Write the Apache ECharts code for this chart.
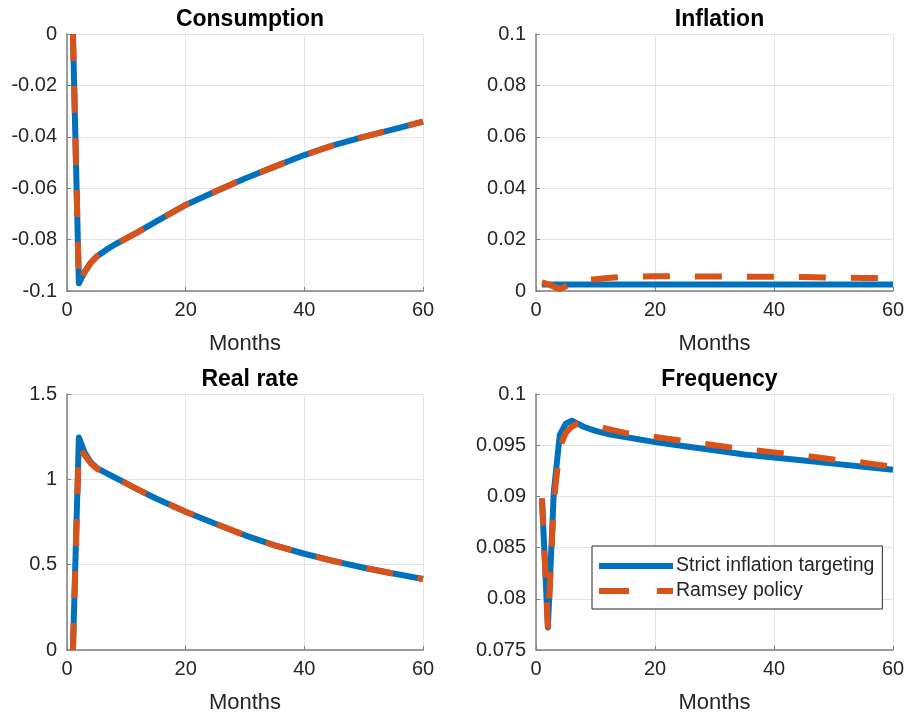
<!DOCTYPE html>
<html><head><meta charset="utf-8">
<script src="https://cdn.jsdelivr.net/npm/echarts@6/dist/echarts.min.js"></script>
<style>html,body{margin:0;padding:0;background:#fff}#c{width:908px;height:715px}</style>
</head><body><div id="c"></div>
<script>
const months = [1,2,3,4,5,6,7,8,10,12,15,20,25,30,35,40,45,50,55,60];
const panelTitles = ['Consumption','Inflation','Real rate','Frequency'];
const seriesNames = ['Strict inflation targeting','Ramsey policy'];
const xTicks = [0,20,40,60];

const consSIT = [0,-0.097,-0.0925,-0.089,-0.0866,-0.085,-0.0834,-0.082,-0.0795,-0.077,-0.073,-0.0665,-0.0613,-0.0562,-0.0516,-0.0471,-0.0432,-0.040,-0.0371,-0.0341];
const consRam = [0,-0.0975,-0.0925,-0.089,-0.0866,-0.085,-0.0834,-0.082,-0.0795,-0.077,-0.073,-0.0665,-0.0613,-0.0562,-0.0516,-0.0471,-0.0432,-0.040,-0.0371,-0.0341];
const inflSIT = [0.0025,0.0025,0.0025,0.0025,0.0025,0.0025,0.0025,0.0025,0.0025,0.0025,0.0025,0.0025,0.0025,0.0025,0.0025,0.0025,0.0025,0.0025,0.0025,0.0025];
const inflRam = [0.0033,0.0027,0.0017,0.0008,0.0018,0.0031,0.0038,0.0042,0.0046,0.0051,0.0056,0.0057,0.0057,0.0056,0.0056,0.0055,0.0054,0.0052,0.0051,0.005];
const rateSIT = [0,1.245,1.155,1.1,1.068,1.048,1.03,1.012,0.976,0.94,0.888,0.81,0.74,0.672,0.613,0.564,0.521,0.482,0.448,0.416];
const rateRam = [0,1.19,1.14,1.094,1.063,1.045,1.028,1.01,0.976,0.94,0.888,0.81,0.74,0.672,0.613,0.564,0.521,0.482,0.448,0.416];
const freqSIT = [0.0898,0.0772,0.0905,0.0960,0.0971,0.0974,0.0971,0.0968,0.0964,0.0961,0.0958,0.0953,0.0949,0.0945,0.0941,0.0938,0.0935,0.0932,0.0929,0.0926];
const freqRam = [0.0898,0.0773,0.0895,0.0948,0.0962,0.0968,0.0971,0.0971,0.0969,0.0966,0.0962,0.0958,0.0954,0.0950,0.0946,0.0943,0.0940,0.0936,0.0933,0.0929];

const yRanges = [
  {min:-0.1, max:0, interval:0.02},
  {min:0, max:0.1, interval:0.02},
  {min:0, max:1.5, interval:0.5},
  {min:0.075, max:0.1, interval:0.005}
];
const panelData = [[consSIT,consRam],[inflSIT,inflRam],[rateSIT,rateRam],[freqSIT,freqRam]];

const FONT = 'Liberation Sans, Arial, Helvetica, sans-serif';
const grids = [
  {left:67, top:34, width:356, height:257},
  {left:536, top:34, width:357, height:257},
  {left:67, top:394, width:356, height:256},
  {left:536, top:394, width:357, height:256}
];
const BLUE = '#0072BD', ORANGE = '#D95319';
const DASH = [27,25];

const pair = (ys) => months.map((m,i)=>[m, ys[i]]);

const option = {
  animation:false,
  textStyle:{fontFamily:FONT},
  title: panelTitles.map((t,i)=>({
    text:t, left: grids[i].left + grids[i].width/2, top: grids[i].top - 31,
    textAlign:'center',
    textStyle:{fontFamily:FONT, fontWeight:'bold', fontSize:23, color:'#000'}
  })),
  grid: grids,
  legend:{
    orient:'vertical', left:592, top:546,
    data: [
      {name:seriesNames[0], itemStyle:{opacity:0}, lineStyle:{color:BLUE, width:6, type:'solid'}},
      {name:seriesNames[1], itemStyle:{opacity:0}, lineStyle:{color:ORANGE, width:6, type:[30,28]}}
    ],
    backgroundColor:'#fff', borderColor:'#262626', borderWidth:1,
    padding:[10,8,8,4], itemGap:5, itemWidth:74, itemHeight:14,
    textStyle:{fontFamily:FONT, fontSize:19.5, color:'#262626', padding:[0,0,0,-2]},
    selectedMode:false
  },
  xAxis: grids.map((g,i)=>({
    type:'value', gridIndex:i, min:0, max:60, interval:20,
    name:'Months', nameLocation:'middle', nameGap:42,
    nameTextStyle:{fontFamily:FONT, fontSize:22, color:'#262626'},
    axisLine:{show:true, onZero:false, lineStyle:{color:'#808080', width:1.5}},
    axisTick:{show:true, inside:true, length:4, lineStyle:{color:'#808080'}},
    axisLabel:{fontFamily:FONT, fontSize:20, color:'#262626', margin:9},
    splitLine:{show:true, lineStyle:{color:'#e3e3e3', width:1}}
  })),
  yAxis: grids.map((g,i)=>({
    type:'value', gridIndex:i, min:yRanges[i].min, max:yRanges[i].max, interval:yRanges[i].interval,
    axisLine:{show:true, onZero:false, lineStyle:{color:'#808080', width:1.5}},
    axisTick:{show:true, inside:true, length:4, lineStyle:{color:'#808080'}},
    axisLabel:{fontFamily:FONT, fontSize:20, color:'#262626', margin:10},
    splitLine:{show:true, lineStyle:{color:'#e3e3e3', width:1}}
  })),
  series: []
};
panelData.forEach((d,i)=>{
  option.series.push({
    name:seriesNames[0], type:'line', xAxisIndex:i, yAxisIndex:i,
    data:pair(d[0]), symbol:'none', z:2, clip:true,
    lineStyle:{color:BLUE, width:6, join:'round'}, itemStyle:{color:BLUE}
  });
  option.series.push({
    name:seriesNames[1], type:'line', xAxisIndex:i, yAxisIndex:i,
    data:pair(d[1]), symbol:'none', z:3, clip:true,
    lineStyle:{color:ORANGE, width:6, type:DASH, join:'round'}, itemStyle:{color:ORANGE}
  });
});
const chart = echarts.init(document.getElementById('c'), null, {renderer:'canvas'});
chart.setOption(option);
</script></body></html>
